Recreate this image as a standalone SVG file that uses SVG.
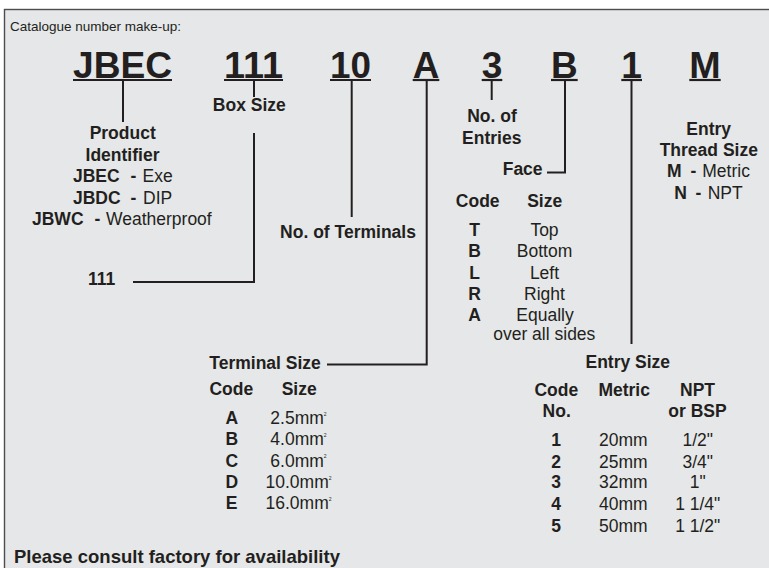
<svg xmlns="http://www.w3.org/2000/svg" width="769" height="568" viewBox="0 0 769 568">
<style>
text{font-family:"Liberation Sans",Arial,Helvetica,sans-serif;fill:#231f20;font-size:17.5px}
.b{font-weight:bold}
.c{text-anchor:middle}
.big{font-size:36px;font-weight:bold}
.sm{font-size:13.5px}
.ln{stroke:#231f20;stroke-width:2;fill:none}
.ul{stroke:#231f20;stroke-width:2.2}
.sup{font-size:5px}
</style>
<rect x="0" y="0" width="769" height="568" fill="#ffffff"/>
<rect x="4.5" y="9.5" width="800" height="600" fill="#e6e7e8" stroke="#4d4d4f" stroke-width="1.4"/>
<text class="sm" x="10" y="30.5">Catalogue number make-up:</text>

<g id="connectors">
<line class="ln" x1="123" y1="80" x2="123" y2="122"/>
<line class="ln" x1="254" y1="80" x2="254" y2="97"/>
<polyline class="ln" points="254,133 254,282 133,282"/>
<line class="ln" x1="351.7" y1="80" x2="351.7" y2="217"/>
<polyline class="ln" points="426.7,80 426.7,364.5 327,364.5"/>
<line class="ln" x1="491.7" y1="80" x2="491.7" y2="100"/>
<polyline class="ln" points="565,80 565,172.5 547,172.5"/>
<line class="ln" x1="631.5" y1="80" x2="631.5" y2="344"/>
</g>

<g id="code-jbec">
<text class="big" x="73" y="77.5" textLength="99" lengthAdjust="spacingAndGlyphs">JBEC</text>
<line class="ul" x1="73" y1="80" x2="172" y2="80"/>
</g>
<g id="code-111">
<text class="big" x="224" y="77.5" textLength="59" lengthAdjust="spacingAndGlyphs">111</text>
<line class="ul" x1="224" y1="80" x2="283" y2="80"/>
</g>
<g id="code-10">
<text class="big" x="330" y="77.5" textLength="41" lengthAdjust="spacingAndGlyphs">10</text>
<line class="ul" x1="330" y1="80" x2="371" y2="80"/>
</g>
<g id="code-a">
<text class="big" x="412.7" y="77.5" textLength="26.6" lengthAdjust="spacingAndGlyphs">A</text>
<line class="ul" x1="412.7" y1="80" x2="439.3" y2="80"/>
</g>
<g id="code-3">
<text class="big" x="481.7" y="77.5" textLength="20.6" lengthAdjust="spacingAndGlyphs">3</text>
<line class="ul" x1="481.7" y1="80" x2="502.3" y2="80"/>
</g>
<g id="code-b">
<text class="big" x="551" y="77.5" textLength="26.7" lengthAdjust="spacingAndGlyphs">B</text>
<line class="ul" x1="551" y1="80" x2="577.7" y2="80"/>
</g>
<g id="code-1">
<text class="big" x="621.3" y="77.5" textLength="20.7" lengthAdjust="spacingAndGlyphs">1</text>
<line class="ul" x1="621.3" y1="80" x2="642" y2="80"/>
</g>
<g id="code-m">
<text class="big" x="689.3" y="77.5" textLength="31.4" lengthAdjust="spacingAndGlyphs">M</text>
<line class="ul" x1="689.3" y1="80" x2="720.7" y2="80"/>
</g>

<g id="product-identifier">
<text class="b c" x="122.7" y="139.3">Product</text>
<text class="b c" x="122.5" y="161">Identifier</text>
<text y="182.3"><tspan class="b" x="73">JBEC</tspan><tspan class="b" x="130.5">-</tspan><tspan x="142.5">Exe</tspan></text>
<text y="204"><tspan class="b" x="73">JBDC</tspan><tspan class="b" x="130.5">-</tspan><tspan x="143">DIP</tspan></text>
<text y="225"><tspan class="b" x="32">JBWC</tspan><tspan class="b" x="94.5">-</tspan><tspan x="106">Weatherproof</tspan></text>
</g>

<g id="box-size">
<text class="b c" x="249.3" y="111">Box Size</text>
<text class="b" x="88" y="285">111</text>
</g>

<g id="no-of-terminals">
<text class="b c" x="348" y="238">No. of Terminals</text>
</g>

<g id="terminal-size">
<text class="b" x="209.3" y="369">Terminal Size</text>
<text class="b c" x="231.3" y="395">Code</text>
<text class="b c" x="299.2" y="395">Size</text>
<text class="b c" x="231.7" y="424">A</text>
<text class="b c" x="231.7" y="445">B</text>
<text class="b c" x="231.7" y="466.7">C</text>
<text class="b c" x="231.7" y="488.3">D</text>
<text class="b c" x="231.7" y="509.3">E</text>
<text class="c" x="298.5" y="424">2.5mm<tspan class="sup" dy="-8.5">2</tspan></text>
<text class="c" x="298.5" y="445">4.0mm<tspan class="sup" dy="-8.5">2</tspan></text>
<text class="c" x="298.5" y="466.7">6.0mm<tspan class="sup" dy="-8.5">2</tspan></text>
<text class="c" x="298.5" y="488.3">10.0mm<tspan class="sup" dy="-8.5">2</tspan></text>
<text class="c" x="298.5" y="509.3">16.0mm<tspan class="sup" dy="-8.5">2</tspan></text>
</g>

<g id="no-of-entries">
<text class="b c" x="492" y="122">No. of</text>
<text class="b c" x="491.7" y="144">Entries</text>
</g>

<g id="face">
<text class="b" x="502.7" y="175">Face</text>
<text class="b c" x="477.7" y="206.7">Code</text>
<text class="b c" x="544.7" y="206.7">Size</text>
<text class="b c" x="474.5" y="236">T</text>
<text class="b c" x="474.5" y="257.3">B</text>
<text class="b c" x="474.5" y="279">L</text>
<text class="b c" x="474.5" y="300">R</text>
<text class="b c" x="474.5" y="321.3">A</text>
<text class="c" x="544.5" y="236">Top</text>
<text class="c" x="544.5" y="257.3">Bottom</text>
<text class="c" x="544.5" y="279">Left</text>
<text class="c" x="544.5" y="300">Right</text>
<text class="c" x="545" y="321">Equally</text>
<text class="c" x="544.3" y="339.8">over all sides</text>
</g>

<g id="entry-size">
<text class="b c" x="627.8" y="368.3">Entry Size</text>
<text class="b c" x="556.3" y="396">Code</text>
<text class="b c" x="556.7" y="416.7">No.</text>
<text class="b c" x="624.2" y="396">Metric</text>
<text class="b c" x="697.5" y="396">NPT</text>
<text class="b c" x="697.5" y="416.7">or BSP</text>
<text class="b c" x="556" y="446">1</text>
<text class="b c" x="556" y="467.7">2</text>
<text class="b c" x="556" y="488.3">3</text>
<text class="b c" x="556" y="510">4</text>
<text class="b c" x="556" y="531.7">5</text>
<text class="c" x="623.3" y="446">20mm</text>
<text class="c" x="623.3" y="467.7">25mm</text>
<text class="c" x="623.3" y="488.3">32mm</text>
<text class="c" x="623.3" y="510">40mm</text>
<text class="c" x="623.3" y="531.7">50mm</text>
<text class="c" x="697.7" y="446">1/2"</text>
<text class="c" x="697.7" y="467.7">3/4"</text>
<text class="c" x="697.7" y="488.3">1"</text>
<text class="c" x="697.7" y="510">1 1/4"</text>
<text class="c" x="697.7" y="531.7">1 1/2"</text>
</g>

<g id="entry-thread-size">
<text class="b c" x="708.7" y="135">Entry</text>
<text class="b c" x="708.8" y="156">Thread Size</text>
<text y="177.3"><tspan class="b" x="667">M</tspan><tspan class="b" x="690.5">-</tspan><tspan x="702.3">Metric</tspan></text>
<text y="199"><tspan class="b" x="674.3">N</tspan><tspan class="b" x="695.5">-</tspan><tspan x="707.7">NPT</tspan></text>
</g>

<text class="b" x="14" y="563.3" style="font-size:18.5px">Please consult factory for availability</text>
</svg>
